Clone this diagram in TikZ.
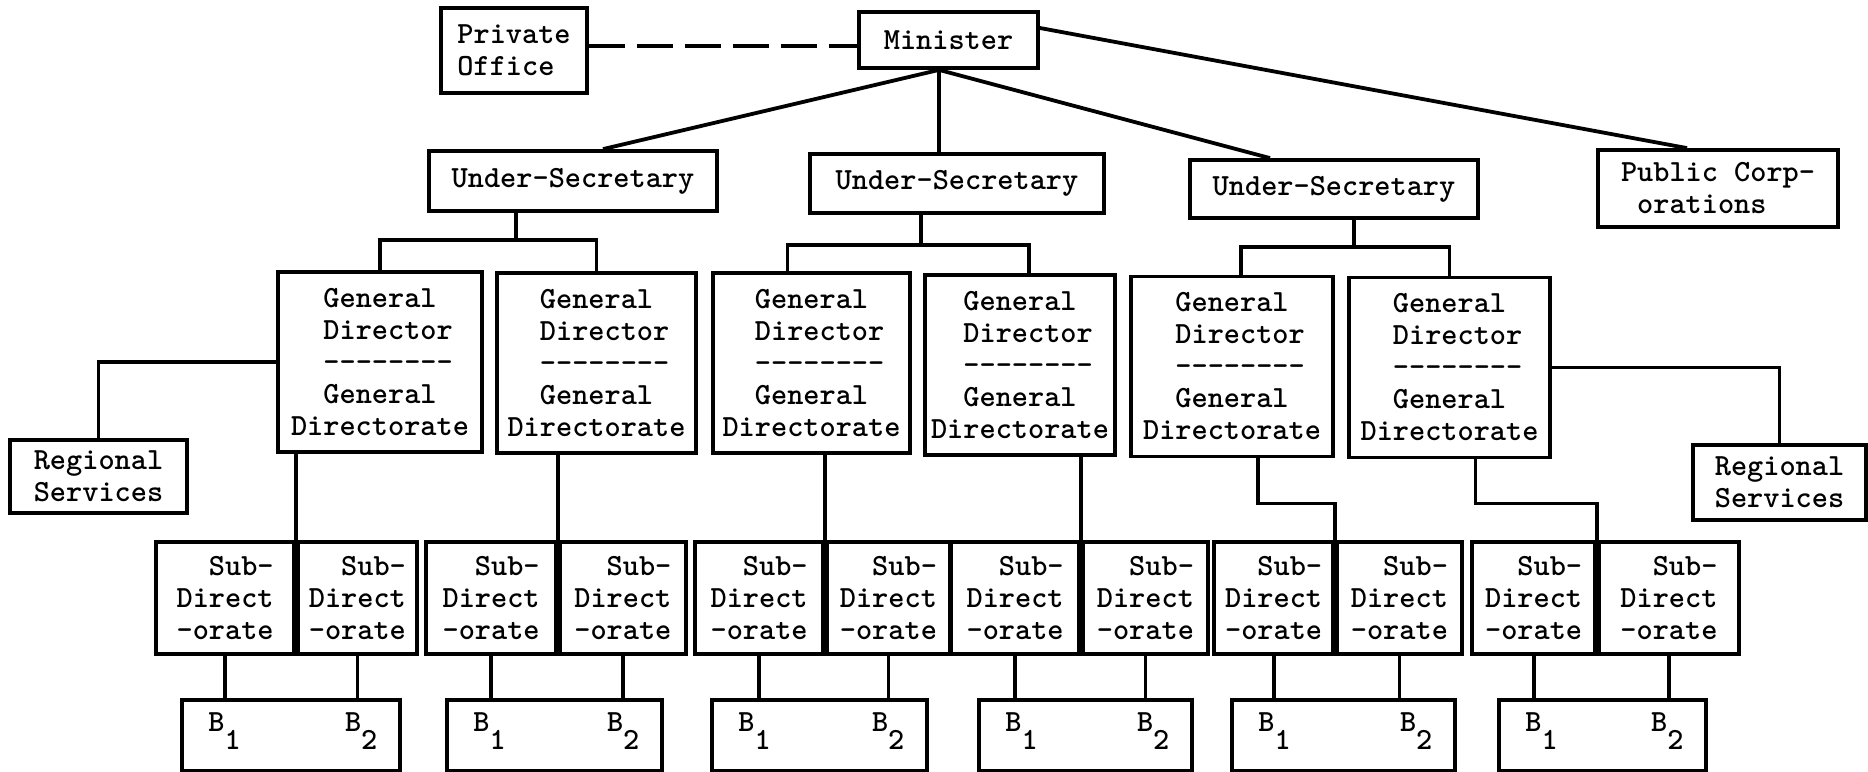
\documentclass[tikz,border=0pt]{standalone}
\usepackage{tikz}

\newcommand{\gdrule}{-\kern0pt-\kern0pt-\kern0pt-\kern0pt-\kern0pt-\kern0pt-\kern0pt-}
\newcommand{\gdtext}{\hphantom{Di}General\\\hphantom{Di}Director\\\hphantom{Di}\gdrule\\\hphantom{Di}General\\Directorate}
\newcommand{\sdtext}{Sub-\\Direct\\-orate}
\newcommand{\bsub}[1]{B\raisebox{-9pt}{#1}}

\begin{document}
\begin{tikzpicture}[x=0.5pt,y=-0.5pt]
				\tikzstyle{every node}=[font=\ttfamily\bfseries\fontsize{15.4}{16}\selectfont]
				\tikzstyle{box}=[draw,line width=1.9pt,inner sep=0pt,align=left]
				\tikzstyle{gdbox}=[box,minimum height=90pt]
				\tikzstyle{sdbox}=[box,align=right,minimum height=56pt]
				\tikzstyle{bbox}=[box,minimum height=35.5pt,anchor=north west]
				\tikzstyle{bleft}=[inner sep=0pt,anchor=base west]
				\tikzstyle{bright}=[inner sep=0pt,anchor=base east]
				\tikzstyle{link}=[line width=1.9pt]
				\useasboundingbox (0,0) rectangle (1868,771);
				
				\node[box,minimum width=73pt,minimum height=42.5pt] (po) at (514,50.5) {Private\\Office};
				\node[box,minimum width=89.5pt,minimum height=28pt] (min) at (948.5,40) {Minister};
				\node[box,minimum width=144pt,minimum height=30pt] (us1) at (573,181) {Under-Secretary};
				\node[box,minimum width=147pt,minimum height=29.5pt] (us2) at (957,183.5) {Under-Secretary};
				\node[box,minimum width=144pt,minimum height=29pt] (us3) at (1334,189) {Under-Secretary};
				\node[box,minimum width=120pt,minimum height=38.5pt] (pc) at (1718,188.5) {Public Corp-\\\hphantom{x}orations};
				
				\node[gdbox,minimum width=102pt] (gd1) at (380,362) {\gdtext};
				\node[gdbox,minimum width=99.5pt] (gd2) at (596.5,363) {\gdtext};
				\node[gdbox,minimum width=98.5pt] (gd3) at (811.5,363) {\gdtext};
				\node[gdbox,minimum width=95pt] (gd4) at (1020,365) {\gdtext};
				\node[gdbox,minimum width=101pt] (gd5) at (1232,366.5) {\gdtext};
				\node[gdbox,minimum width=100.5pt] (gd6) at (1449.5,367.5) {\gdtext};
				
				\node[box,minimum width=88.5pt,minimum height=36.5pt] (rsl) at (98.5,476.5) {Regional\\Services};
				\node[box,minimum width=86.5pt,minimum height=37.5pt] (rsr) at (1779.5,482.5) {Regional\\Services};
				
				\node[sdbox,minimum width=69pt,anchor=north east] (s1a) at (296,540) {\sdtext};
				\node[sdbox,minimum width=59.5pt,anchor=north west] (s1b) at (296,540) {\sdtext};
				\node[sdbox,minimum width=65pt,anchor=north east] (s2a) at (558,540) {\sdtext};
				\node[sdbox,minimum width=63pt,anchor=north west] (s2b) at (558,540) {\sdtext};
				\node[sdbox,minimum width=64pt,anchor=north east] (s3a) at (825,540) {\sdtext};
				\node[sdbox,minimum width=61.5pt,anchor=north west] (s3b) at (825,540) {\sdtext};
				\node[sdbox,minimum width=64pt,anchor=north east] (s4a) at (1081,540) {\sdtext};
				\node[sdbox,minimum width=62.5pt,anchor=north west] (s4b) at (1081,540) {\sdtext};
				\node[sdbox,minimum width=59.5pt,anchor=north east] (s5a) at (1335,540) {\sdtext};
				\node[sdbox,minimum width=62.5pt,anchor=north west] (s5b) at (1335,540) {\sdtext};
				\node[sdbox,minimum width=61.5pt,anchor=north east] (s6a) at (1597,540) {\sdtext};
				\node[sdbox,minimum width=70pt,anchor=north west] (s6b) at (1597,540) {\sdtext};
				
				\node[bbox,minimum width=109pt] (b1) at (180,698) {};
				\node[bbox,minimum width=107.5pt] (b2) at (445,698) {};
				\node[bbox,minimum width=107.5pt] (b3) at (710,698) {};
				\node[bbox,minimum width=106.5pt] (b4) at (977,698) {};
				\node[bbox,minimum width=111.5pt] (b5) at (1230,698) {};
				\node[bbox,minimum width=103.5pt] (b6) at (1497,698) {};
				
				\node[bleft] (b1x) at ([xshift=14pt,yshift=-16.5pt]b1.north west) {\bsub{1}};
				\node[bright] (b1y) at ([xshift=-12pt,yshift=-16.5pt]b1.north east) {\bsub{2}};
				\node[bleft] (b2x) at ([xshift=14pt,yshift=-16.5pt]b2.north west) {\bsub{1}};
				\node[bright] (b2y) at ([xshift=-12pt,yshift=-16.5pt]b2.north east) {\bsub{2}};
				\node[bleft] (b3x) at ([xshift=14pt,yshift=-16.5pt]b3.north west) {\bsub{1}};
				\node[bright] (b3y) at ([xshift=-12pt,yshift=-16.5pt]b3.north east) {\bsub{2}};
				\node[bleft] (b4x) at ([xshift=14pt,yshift=-16.5pt]b4.north west) {\bsub{1}};
				\node[bright] (b4y) at ([xshift=-12pt,yshift=-16.5pt]b4.north east) {\bsub{2}};
				\node[bleft] (b5x) at ([xshift=14pt,yshift=-16.5pt]b5.north west) {\bsub{1}};
				\node[bright] (b5y) at ([xshift=-12pt,yshift=-16.5pt]b5.north east) {\bsub{2}};
				\node[bleft] (b6x) at ([xshift=14pt,yshift=-16.5pt]b6.north west) {\bsub{1}};
				\node[bright] (b6y) at ([xshift=-12pt,yshift=-16.5pt]b6.north east) {\bsub{2}};
				
				\coordinate (mw) at ([yshift=-3pt]min.west);
				\draw[link,dash pattern=on 18pt off 6pt] (po.east |- mw) -- (mw);
				\coordinate (mb) at ([xshift=-4.75pt]min.south);
				\draw[link] (mb) -- ([xshift=15pt]us1.north);
				\draw[link] (mb) -- (mb |- us2.north);
				\draw[link] (mb) -- ([xshift=-32pt]us3.north);
				\draw[link] ([yshift=6pt]min.east) -- ([xshift=-15.5pt]pc.north);
				
				\coordinate (u1) at ([xshift=-28.5pt]us1.south);
				\coordinate (u2) at ([xshift=-18pt]us2.south);
				\coordinate (u3) at ([xshift=10pt]us3.south);
				\draw[link] (gd1.north) -- ++(0,-30) coordinate (k1) -| (gd2.north);
				\draw[link] (u1) -- (u1 |- k1);
				\draw[link] ([xshift=-12pt]gd3.north) -- ++(0,-26) coordinate (k2) -| ([xshift=4.5pt]gd4.north);
				\draw[link] (u2) -- (u2 |- k2);
				\draw[link] ([xshift=4.5pt]gd5.north) -- ++(0,-28) coordinate (k3) -| (gd6.north);
				\draw[link] (u3) -- (u3 |- k3);
				
				\draw[link] (gd1.west) -| (rsl.north);
				\draw[link] (gd6.east) -| (rsr.north);
				
				\draw[link] (gd1.south -| s1a.north east) -- (s1a.north east);
				\draw[link] (gd2.south -| s2a.north east) -- (s2a.north east);
				\draw[link] (gd3.south -| s3a.north east) -- (s3a.north east);
				\draw[link] (gd4.south -| s4a.north east) -- (s4a.north east);
				\draw[link] ([xshift=13pt]gd5.south) -- ++(0,45) -| (s5a.north east);
				\draw[link] ([xshift=13pt]gd6.south) -- ++(0,44) -| (s6a.north east);
				
				\draw[link] (s1a.south) -- (s1a.south |- b1.north);
				\draw[link] (s1b.south) -- (s1b.south |- b1.north);
				\draw[link] (s2a.south) -- (s2a.south |- b2.north);
				\draw[link] (s2b.south) -- (s2b.south |- b2.north);
				\draw[link] (s3a.south) -- (s3a.south |- b3.north);
				\draw[link] (s3b.south) -- (s3b.south |- b3.north);
				\draw[link] (s4a.south) -- (s4a.south |- b4.north);
				\draw[link] (s4b.south) -- (s4b.south |- b4.north);
				\draw[link] (s5a.south) -- (s5a.south |- b5.north);
				\draw[link] (s5b.south) -- (s5b.south |- b5.north);
				\draw[link] (s6a.south) -- (s6a.south |- b6.north);
				\draw[link] (s6b.south) -- (s6b.south |- b6.north);
				
				\end{tikzpicture}
\end{document}
